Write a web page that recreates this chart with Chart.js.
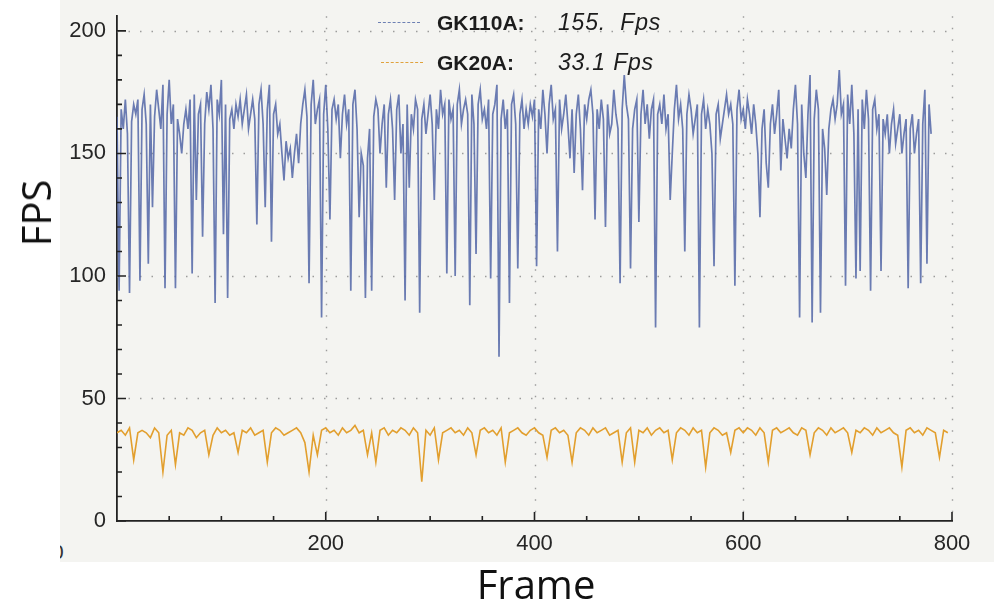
<!DOCTYPE html>
<html lang="en">
<head>
<meta charset="UTF-8">
<title>GK110A vs GK20A FPS</title>
<script src="https://cdn.jsdelivr.net/npm/chart.js"></script>
<style>
  body { margin: 0; width: 994px; height: 608px; background: #fff; position: relative; overflow: hidden; font-family: "Liberation Sans", Arial, sans-serif; }
  .photo { position: absolute; left: 60px; top: 0; width: 934px; height: 562px; background: #f4f4f1; }
  canvas { position: absolute; left: 0; top: 0; }
  .leg { position: absolute; font-size: 21px; line-height: 1; color: #1c1c1c; white-space: pre; }
  .leg b { font-weight: bold; }
  .leg i { position: absolute; left: 121px; top: -1px; font-size: 23px; font-style: italic; letter-spacing: 0.8px; }
  .swatch { position: absolute; width: 42px; height: 0; }
  .title { position: absolute; font-family: "Open Sans", sans-serif; font-size: 40px; color: #111; line-height: 1; white-space: nowrap; }
  .stray { position: absolute; left: 60px; top: 540px; width: 20px; height: 22px; overflow: hidden; }
  .stray span { position: absolute; left: -8px; top: 0; font-size: 21px; color: #333; }
</style>
</head>
<body>
  <div class="photo"></div>
  <div class="stray"><span>0</span></div>
  <canvas id="chart" width="994" height="608"></canvas>

  <div class="swatch" style="left:378px;top:22px;border-top:1.5px dashed #6d80b3"></div>
  <div class="leg" style="left:437px;top:12px"><b>GK110A:</b><i>155.  Fps</i></div>
  <div class="swatch" style="left:381px;top:62px;border-top:1.5px dashed #e0a23c"></div>
  <div class="leg" style="left:437px;top:52px"><b>GK20A:</b><i>33.1 Fps</i></div>

  <div class="title" style="left:36px;top:213px;transform:translate(-50%,-50%) rotate(-90deg)">FPS</div>
  <div class="title" style="left:536px;top:584px;transform:translate(-50%,-50%)">Frame</div>

<script>
// frame spacing of the sampled values
const stepGK110A = 2;
const stepGK20A = 4;

// GK110A fps, frames 0..780 every 2 frames
const gk110a = [
  165, 94,168,160,172,158, 93,163,170,166,172, 98,168,174,162,105,170,128,165,176,
  168,160,178, 95,166,180,162,170, 95,164,158,150,162,168,160,172,101,174,131,166,
  170,116,162,175,168,178,160, 89,172,166,180,117,170, 91,164,168,160,170,165,172,
  162,168,174,160,166,172,164,121,170,176,162,128,168,178,114,166,170,158,162,150,
  139,155,148,152,140,150,158,146,162,170,176,165, 97,170,180,162,168,172, 83,166,
  178,160,123,168,172,164,170,148,166,174,162,168, 94,170,176,160,124,150,145, 91,
  148,160, 94,165,172,168,150,162,170,136,166,172,160,131,168,174,150,162, 90,170,
  136,166,160,172,168, 85,164,170,158,166,174,162,131,168,160,176,166,170,101,172,
  164,168,100,170,176,162,168,172,166, 88,174,162,109,170,176,164,168,160,172, 99,
  166,170,178, 67,164,172,160,168, 89,170,174,162,103,166,172,160,168,162,170,165,
  172,104,168,160,176,166,150,170,178,164,168,110,172,160,166,174,162,148,168,142,
  166,174,160,135,170,164,172,176,166,123,168,160,172,164,120,170,158,162,176,166,
  160, 97,168,182,170,164,103,160,168,172,122,166,176,162,170,156,168,172, 79,166,
  170,162,174,160,166,131,150,168,178,164,170,160,110,166,174,168,158,164,170, 79,
  166,172,160,168,162,150,104,166,170,156,162,168,174,166,170,162, 96,168,176,164,
  168,160,172,166,158,170,162,150,124,160,168,146,136,162,170,158,166,176,143,164,
  156,148,160,152,168,178,162, 83,170,150,140,166,182, 81,164,176,168, 85,160,152,
  133,160,168,172,164,170,184,166,170, 96,174,162,178,158, 99,168,102,172,160,176,
  164, 94,168,172,160,166,102,164,158,166,150,162,168,154,160,166,150,158,164, 95,
  160,166,150,158,164, 97,162,176,105,170,158
];

// GK20A fps, frames 0..796 every 4 frames
const gk20a = [
  36,37,35,38,25,36,37,36,34,38,36,20,35,37,23,36,35,38,37,34,
  36,37,27,35,38,36,37,35,36,28,37,36,38,35,36,37,24,36,38,37,
  35,36,37,38,36,32,20,35,27,37,38,36,37,35,38,36,37,39,36,37,
  27,36,24,37,38,35,37,36,38,37,35,38,36,16,37,35,38,25,36,37,
  38,36,37,35,38,36,27,37,38,36,37,35,38,24,36,37,38,36,35,37,
  38,36,35,26,37,38,36,37,35,24,36,38,37,35,38,36,37,38,35,36,
  37,24,36,38,24,37,36,38,35,37,38,36,37,25,36,38,37,35,38,36,
  37,22,36,38,37,35,36,28,37,38,36,38,37,35,38,36,24,37,38,36,
  37,38,36,35,38,37,27,36,38,37,35,38,36,37,38,36,28,37,36,38,
  37,35,38,36,37,38,36,35,22,37,38,36,37,35,38,37,36,26,37,36
];

const xTickValues = [200, 400, 600, 800];
const yTickValues = [0, 50, 100, 150, 200];
const xGridValues = [200, 400, 600, 800];
const yGridValues = [50, 100, 150, 200];
const xMinorTicks = [50, 100, 150, 250, 300, 350, 450, 500, 550, 650, 700, 750];
const yMinorTicks = [10, 20, 30, 40, 60, 70, 80, 90, 110, 120, 130, 140, 160, 170, 180, 190];

function toPoints(values, step) {
  return values.map((v, i) => ({ x: i * step, y: v }));
}

// dotted grid under the data, inward ticks on top of it
const axisMarks = {
  id: "axisMarks",
  beforeDatasetsDraw(chart) {
    const { ctx, chartArea: a, scales: { x, y } } = chart;
    ctx.save();
    ctx.strokeStyle = "#9c9c9c";
    ctx.lineWidth = 1.4;
    ctx.setLineDash([1.5, 10]);
    ctx.beginPath();
    xGridValues.forEach((v) => {
      const px = Math.round(x.getPixelForValue(v)) + 0.5;
      ctx.moveTo(px, a.top);
      ctx.lineTo(px, a.bottom);
    });
    yGridValues.forEach((v) => {
      const py = Math.round(y.getPixelForValue(v)) + 0.5;
      ctx.moveTo(a.left, py);
      ctx.lineTo(a.right, py);
    });
    ctx.stroke();
    ctx.restore();
  },
  afterDatasetsDraw(chart) {
    const { ctx, chartArea: a, scales: { x, y } } = chart;
    ctx.save();
    ctx.strokeStyle = "#222";
    ctx.lineWidth = 1.6;
    ctx.beginPath();
    const tick = (scale, v, len, vertical) => {
      const p = scale.getPixelForValue(v);
      if (vertical) { ctx.moveTo(p, a.bottom); ctx.lineTo(p, a.bottom - len); }
      else { ctx.moveTo(a.left, p); ctx.lineTo(a.left + len, p); }
    };
    xTickValues.forEach((v) => tick(x, v, 9, true));
    xMinorTicks.forEach((v) => tick(x, v, 5, true));
    yTickValues.forEach((v) => tick(y, v, 9, false));
    yMinorTicks.forEach((v) => tick(y, v, 5, false));
    ctx.stroke();
    ctx.restore();
  }
};

const tickFont = { family: "Liberation Sans", size: 22 };

new Chart(document.getElementById("chart").getContext("2d"), {
  type: "line",
  data: {
    datasets: [
      {
        label: "GK110A",
        data: toPoints(gk110a, stepGK110A),
        borderColor: "rgba(86,106,168,0.88)",
        borderWidth: 1.7,
        pointRadius: 0,
        tension: 0
      },
      {
        label: "GK20A",
        data: toPoints(gk20a, stepGK20A),
        borderColor: "#e29f2e",
        borderWidth: 1.6,
        pointRadius: 0,
        tension: 0
      }
    ]
  },
  options: {
    responsive: false,
    animation: false,
    devicePixelRatio: 1,
    layout: { padding: { top: 0, right: 42, left: 0, bottom: 0 } },
    plugins: { legend: { display: false }, tooltip: { enabled: false } },
    scales: {
      x: {
        type: "linear",
        min: 0,
        max: 800,
        afterFit: (s) => { s.height = 87; },
        afterBuildTicks: (s) => { s.ticks = xTickValues.map((v) => ({ value: v })); },
        grid: { display: false },
        border: { display: true, color: "#222", width: 1.8 },
        ticks: { padding: 2, color: "#262626", font: tickFont, maxRotation: 0, autoSkip: false }
      },
      y: {
        type: "linear",
        min: 0,
        max: 206,
        afterFit: (s) => { s.width = 117; },
        afterBuildTicks: (s) => { s.ticks = yTickValues.map((v) => ({ value: v })); },
        grid: { display: false },
        border: { display: true, color: "#222", width: 1.8 },
        ticks: { padding: 3, color: "#262626", font: tickFont, autoSkip: false }
      }
    }
  },
  plugins: [axisMarks]
});
</script>
</body>
</html>
